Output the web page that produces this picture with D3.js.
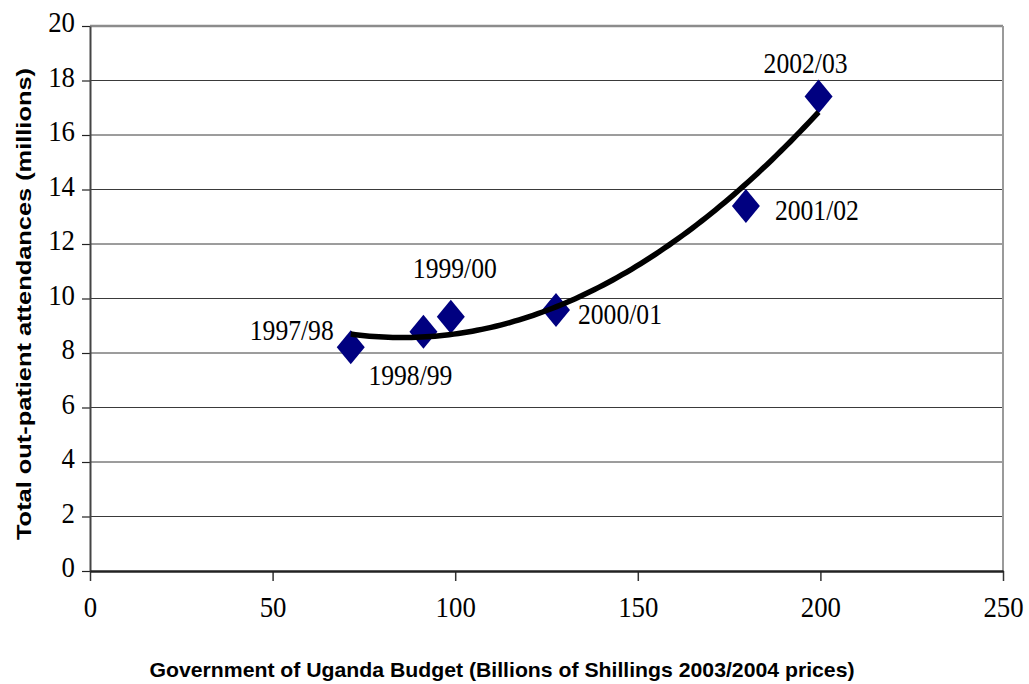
<!DOCTYPE html>
<html>
<head>
<meta charset="utf-8">
<script src="https://cdn.jsdelivr.net/npm/d3@7"></script>
<style>
  html, body { margin: 0; padding: 0; background: #fff; }
  svg { display: block; }
</style>
</head>
<body>
<svg id="chart" width="1029" height="684"></svg>
<script>
// ---- data ----
const years = ["1997/98", "1998/99", "1999/00", "2000/01", "2001/02", "2002/03"];
const budget = [71.4, 91.3, 98.8, 127.6, 179.6, 199.5];
const attendances = [8.21, 8.78, 9.33, 9.58, 13.39, 17.41];
const xTicks = [0, 50, 100, 150, 200, 250];
const yTicks = [0, 2, 4, 6, 8, 10, 12, 14, 16, 18, 20];
const xTitle = "Government of Uganda Budget (Billions of Shillings 2003/2004 prices)";
const yTitle = "Total out-patient attendances (millions)";
// label offsets relative to point (dx, dy of text baseline start)
const labelPos = [
  {anchor: "end", dx: -17, dy: -7},
  {anchor: "start", dx: -55, dy: 53},
  {anchor: "middle", dx: 4, dy: -39},
  {anchor: "start", dx: 22, dy: 14},
  {anchor: "start", dx: 29, dy: 14},
  {anchor: "middle", dx: -13, dy: -24}
];

const svg = d3.select("#chart");
const x = d3.scaleLinear().domain([0, 250]).range([90, 1003]);
const y = d3.scaleLinear().domain([0, 20]).range([571, 26]);
const serif = "'Liberation Serif', 'Times New Roman', serif";
const sans = "'Liberation Sans', Arial, sans-serif";
const digitW = 13.4;

// gridlines
svg.append("g").selectAll("line").data(yTicks.filter(d => d > 0 && d < 20)).join("line")
  .attr("x1", x(0)).attr("x2", x(250))
  .attr("y1", d => y(d)).attr("y2", d => y(d))
  .attr("stroke", "#3a3a3a").attr("stroke-width", 1);

// plot border top/right
svg.append("line").attr("x1", x(0)).attr("x2", x(250)).attr("y1", y(20)).attr("y2", y(20))
  .attr("stroke", "#8c8c8c").attr("stroke-width", 2.5);
svg.append("line").attr("x1", x(250)).attr("x2", x(250)).attr("y1", y(20)).attr("y2", y(0))
  .attr("stroke", "#9a9a9a").attr("stroke-width", 2);

// y axis
const yAxis = svg.append("g").attr("transform", `translate(${x(0)},0)`)
  .call(d3.axisLeft(y).tickValues(yTicks).tickSize(8).tickSizeOuter(0).tickPadding(7));
yAxis.select(".domain").attr("stroke", "#444").attr("stroke-width", 2);
yAxis.selectAll(".tick line").attr("stroke", "#222").attr("stroke-width", 1.2);
yAxis.selectAll(".tick text").attr("font-family", serif).attr("font-size", 29)
  .attr("fill", "#000").attr("dy", "0.2em")
  .attr("textLength", d => String(d).length * digitW).attr("lengthAdjust", "spacingAndGlyphs");

// x axis
const xAxis = svg.append("g").attr("transform", `translate(0,${y(0)})`)
  .call(d3.axisBottom(x).tickValues(xTicks).tickSize(10).tickSizeOuter(0).tickPadding(19));
xAxis.select(".domain").attr("stroke", "#222").attr("stroke-width", 2.5);
xAxis.selectAll(".tick line").attr("stroke", "#333").attr("stroke-width", 1.5);
xAxis.selectAll(".tick text").attr("font-family", serif).attr("font-size", 29)
  .attr("fill", "#000").attr("dy", "0.6em")
  .attr("textLength", d => String(d).length * digitW).attr("lengthAdjust", "spacingAndGlyphs");
svg.selectAll(".domain").raise();

// quadratic least-squares trendline (as the spreadsheet's trendline)
function polyfit2(xs, ys) {
  const n = xs.length;
  let s = [0,0,0,0,0], t = [0,0,0];
  for (let i = 0; i < n; i++) {
    const xi = xs[i];
    for (let k = 0; k < 5; k++) s[k] += Math.pow(xi, k);
    for (let k = 0; k < 3; k++) t[k] += ys[i] * Math.pow(xi, k);
  }
  const M = [[s[0], s[1], s[2], t[0]], [s[1], s[2], s[3], t[1]], [s[2], s[3], s[4], t[2]]];
  for (let c = 0; c < 3; c++) {
    for (let r = c + 1; r < 3; r++) {
      const f = M[r][c] / M[c][c];
      for (let k = c; k < 4; k++) M[r][k] -= f * M[c][k];
    }
  }
  const b = [0,0,0];
  for (let r = 2; r >= 0; r--) {
    let v = M[r][3];
    for (let k = r + 1; k < 3; k++) v -= M[r][k] * b[k];
    b[r] = v / M[r][r];
  }
  return b;
}
const coef = polyfit2(budget, attendances);
const [xmin, xmax] = d3.extent(budget);
const trend = d3.range(0, 101).map(i => {
  const xv = xmin + (xmax - xmin) * i / 100;
  return [xv, coef[0] + coef[1] * xv + coef[2] * xv * xv];
});

// diamonds
const hw = 14, hh = 17;
svg.append("g").selectAll("path").data(budget).join("path")
  .attr("d", (d, i) => {
    const cx = x(d), cy = y(attendances[i]);
    return `M${cx},${cy - hh}L${cx + hw},${cy}L${cx},${cy + hh}L${cx - hw},${cy}Z`;
  })
  .attr("fill", "#000080");

svg.append("path").datum(trend)
  .attr("d", d3.line().x(d => x(d[0])).y(d => y(d[1])).curve(d3.curveLinear))
  .attr("fill", "none").attr("stroke", "#000").attr("stroke-width", 5.5).attr("stroke-linecap", "butt");

// point labels
svg.append("g").selectAll("text").data(years).join("text")
  .attr("x", (d, i) => x(budget[i]) + labelPos[i].dx)
  .attr("y", (d, i) => y(attendances[i]) + labelPos[i].dy)
  .attr("text-anchor", (d, i) => labelPos[i].anchor)
  .attr("font-family", serif).attr("font-size", 29).attr("fill", "#000")
  .attr("textLength", 84).attr("lengthAdjust", "spacingAndGlyphs")
  .text(d => d);

// axis titles
svg.append("text").attr("x", 502).attr("y", 677).attr("text-anchor", "middle")
  .attr("font-family", sans).attr("font-weight", "bold").attr("font-size", 21)
  .attr("textLength", 705).attr("lengthAdjust", "spacingAndGlyphs")
  .text(xTitle);
svg.append("text").attr("transform", "translate(31,304) rotate(-90)").attr("text-anchor", "middle")
  .attr("font-family", sans).attr("font-weight", "bold").attr("font-size", 20)
  .attr("textLength", 472).attr("lengthAdjust", "spacingAndGlyphs")
  .text(yTitle);
</script>
</body>
</html>
